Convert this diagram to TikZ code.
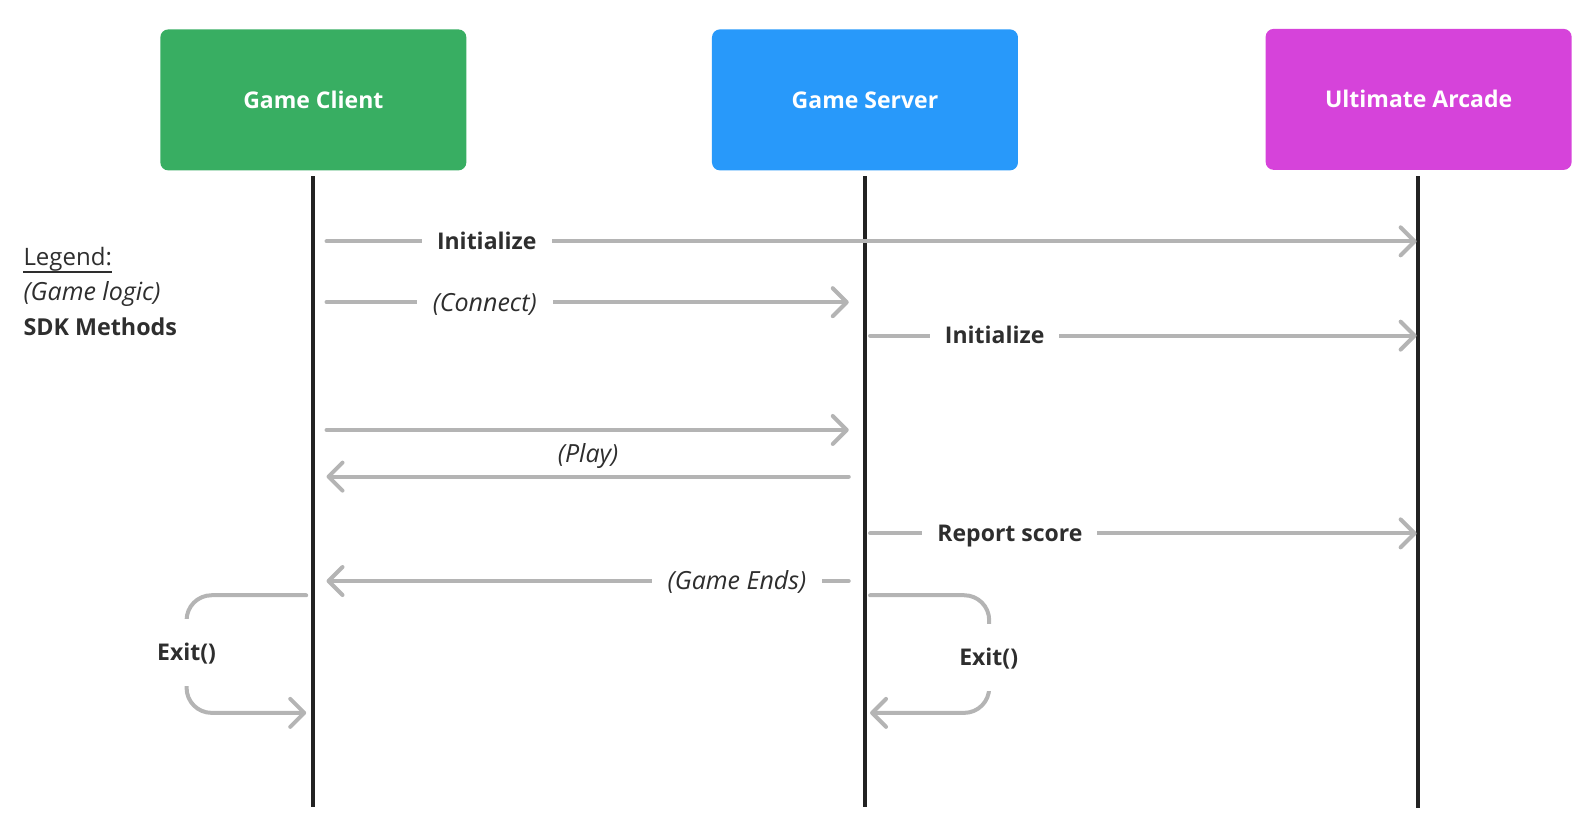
\documentclass[tikz,border=0pt]{standalone}
\usepackage{fontspec}
\setmainfont{Open Sans}
\usetikzlibrary{arrows.meta}
\definecolor{cgreen}{HTML}{38AE62}
\definecolor{cblue}{HTML}{2899FA}
\definecolor{cmag}{HTML}{D643DA}
\definecolor{cgray}{HTML}{B4B4B4}
\definecolor{ctext}{HTML}{2E2E2E}
\definecolor{cline}{HTML}{222222}
\begin{document}
\begin{tikzpicture}[x=1.01403pt,y=-1.01403pt,
  actor/.style={rounded corners=8pt,minimum width=306pt,minimum height=141pt,inner sep=0pt,text=white,text height=16.4pt,text depth=0pt,font=\fontsize{23}{27}\selectfont\bfseries},
  lifeline/.style={draw=cline,line width=4pt},
  msg/.style={draw=cgray,line width=4pt,line cap=round,-{Straight Barb[length=14pt,width=28pt,line cap=round,line join=round]}},
  sdk/.style={fill=white,text=ctext,inner xsep=15pt,inner ysep=5pt,text height=16.4pt,text depth=0pt,font=\fontsize{23}{27}\selectfont\bfseries},
  logic/.style={fill=white,text=ctext,inner xsep=16pt,inner ysep=5pt,text height=17.8pt,text depth=0pt,font=\fontsize{25}{29}\selectfont\itshape},
  legend/.style={anchor=west,text=ctext,inner sep=0pt,text height=17.1pt,text depth=0pt,font=\fontsize{24}{28}\selectfont}
]
\useasboundingbox (0,0) rectangle (1568,823.45);
% actors
\node[actor,fill=cgreen] (gc) at (309,98.5) {Game Client};
\node[actor,fill=cblue] (gs) at (853,98.5) {Game Server};
\node[actor,fill=cmag] (ua) at (1399,98) {Ultimate Arcade};
% lifelines
\coordinate (gcT) at (309,174); \coordinate (gcB) at (309,796);
\coordinate (gsT) at (853,174); \coordinate (gsB) at (853,796);
\coordinate (uaT) at (1398,174); \coordinate (uaB) at (1398,797);
\draw[lifeline] (gcT) -- (gcB);
\draw[lifeline] (gsT) -- (gsB);
\draw[lifeline] (uaT) -- (uaB);
% legend
\node[legend] (lg1) at (23,253) {Legend:};
\draw[ctext,line width=1.5pt] ([yshift=-6.5pt]lg1.south west) -- ([yshift=-6.5pt]lg1.south east);
\node[legend,text height=17.8pt,font=\fontsize{25}{29}\selectfont\itshape] (lg2) at (23,288) {(Game logic)};
\node[legend,text height=16.6pt,font=\fontsize{23.3}{28}\selectfont\bfseries] (lg3) at (23,322.5) {SDK Methods};
% message anchors
\coordinate (m1s) at (322,238); \coordinate (m1e) at (1397,238);
\coordinate (m2s) at (322,298); \coordinate (m2e) at (837,298);
\coordinate (m3s) at (858,331); \coordinate (m3e) at (1397,331);
\coordinate (m4s) at (322,424); \coordinate (m4e) at (837,424);
\coordinate (m5s) at (837,470); \coordinate (m5e) at (322,470);
\coordinate (m6s) at (858,526); \coordinate (m6e) at (1397,526);
\coordinate (m7s) at (837,573); \coordinate (m7e) at (322,573);
% messages
\draw[msg] (m1s) -- node[sdk,pos=0.147] (l1) {Initialize} (m1e);
\draw[msg] (m2s) -- node[logic,pos=0.303] (l2) {(Connect)} (m2e);
\draw[msg] (m3s) -- node[sdk,pos=0.228] (l3) {Initialize} (m3e);
\draw[msg] (m4s) -- (m4e);
\node[logic,fill=none,inner sep=0pt] (l4) at (580,447) {(Play)};
\draw[msg] (m5s) -- (m5e);
\draw[msg] (m6s) -- node[sdk,pos=0.256] (l6) {Report score} (m6e);
\draw[msg] (m7s) -- node[logic,pos=0.214] (l7) {(Game Ends)} (m7e);
% exit loops
\coordinate (x1s) at (302,587); \coordinate (x1e) at (302,703);
\coordinate (x2s) at (858,587); \coordinate (x2e) at (858,703);
\draw[msg,rounded corners=25pt] (x1s) -- (184,587) -- (184,703) -- (x1e);
\node[sdk,inner xsep=4pt,inner ysep=25pt] (ex1) at (184,643.5) {Exit()};
\draw[msg,rounded corners=25pt] (x2s) -- (975.5,587) -- (975.5,703) -- (x2e);
\node[sdk,inner xsep=4pt,inner ysep=25pt] (ex2) at (975,648.5) {Exit()};
\end{tikzpicture}
\end{document}
